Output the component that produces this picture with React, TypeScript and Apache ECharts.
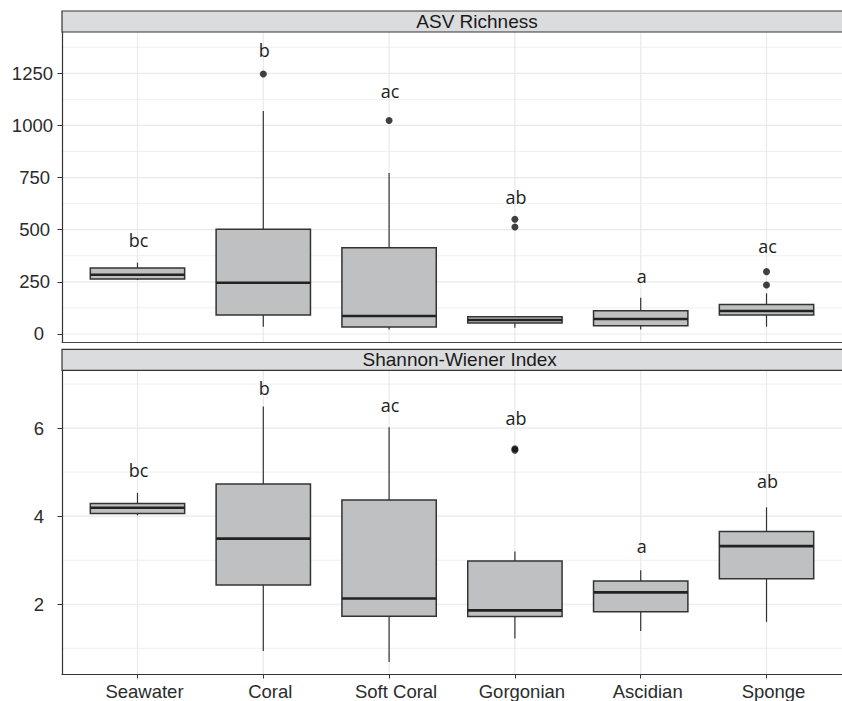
import React, { useEffect, useRef } from "react";
import * as echarts from "echarts";

const categories = ["Seawater", "Coral", "Soft Coral", "Gorgonian", "Ascidian", "Sponge"];
const categoryPositions = [1, 2, 3, 4, 5, 6];

// ASV Richness: [lowerWhisker, q1, median, q3, upperWhisker]
const asvBoxes = [
  [259, 264, 284, 316, 342],
  [35, 91, 246, 502, 1069],
  [22, 34, 86, 414, 772],
  [30, 53, 67, 83, 86],
  [22, 40, 72, 112, 174],
  [35, 91, 110, 142, 195],
];
const asvOutliers = [[], [1247], [1024], [550, 513], [], [299, 235]];
const asvLetters = ["bc", "b", "ac", "ab", "a", "ac"];
const asvLetterY = [449, 1363, 1163, 657, 280, 420];
const asvTicks = [0, 250, 500, 750, 1000, 1250];
const asvMinorGrid = [125, 375, 625, 875, 1125, 1375];

// Shannon-Wiener Index
const shannonBoxes = [
  [4.02, 4.06, 4.19, 4.29, 4.53],
  [0.94, 2.44, 3.49, 4.73, 6.49],
  [0.69, 1.73, 2.13, 4.37, 6.02],
  [1.22, 1.72, 1.86, 2.98, 3.2],
  [1.39, 1.83, 2.27, 2.53, 2.77],
  [1.6, 2.58, 3.32, 3.65, 4.2],
];
const shannonOutliers = [[], [], [], [5.53, 5.5], [], []];
const shannonLetters = ["bc", "b", "ac", "ab", "a", "ab"];
const shannonLetterY = [5.05, 6.91, 6.52, 6.23, 3.33, 4.81];
const shannonTicks = [2, 4, 6];
const shannonMinorGrid = [1, 3, 5, 7];

const X_MIN = 0.4;
const X_MAX = 6.6;
const ASV_MIN = -38.4;
const ASV_MAX = 1448;
const SH_MIN = 0.416;
const SH_MAX = 7.32;

const AXIS_FONT = '"Liberation Sans", Arial, Helvetica, sans-serif';
const LETTER_FONT = '"Open Sans", "Noto Sans", sans-serif';

function gridLineSeries(idx: number, yMin: number, yMax: number, major: number[], minor: number[]) {
  const data: number[][] = [
    ...minor.map((v) => [0, v, 0]),
    ...major.map((v) => [0, v, 1]),
    ...categoryPositions.map((c) => [1, c, 1]),
  ];
  return {
    type: "custom",
    xAxisIndex: idx,
    yAxisIndex: idx,
    silent: true,
    z: 0,
    data,
    renderItem: (params: any, api: any) => {
      const o = api.value(0);
      const v = api.value(1);
      const isMajor = api.value(2) === 1;
      let p1, p2;
      if (o === 0) {
        p1 = api.coord([X_MIN, v]);
        p2 = api.coord([X_MAX, v]);
      } else {
        p1 = api.coord([v, yMin]);
        p2 = api.coord([v, yMax]);
      }
      return {
        type: "line",
        shape: { x1: p1[0], y1: p1[1], x2: p2[0], y2: p2[1] },
        style: { stroke: isMajor ? "#e9e9e9" : "#efefef", lineWidth: isMajor ? 1.2 : 1 },
      };
    },
  };
}

function boxSeries(idx: number, boxes: number[][]) {
  return {
    type: "custom",
    xAxisIndex: idx,
    yAxisIndex: idx,
    z: 2,
    data: boxes.map((b, i) => [categoryPositions[i], ...b]),
    encode: { x: 0, y: [1, 2, 3, 4, 5] },
    renderItem: (params: any, api: any) => {
      const x = api.value(0);
      const pts = [1, 2, 3, 4, 5].map((d) => api.coord([x, api.value(d)]));
      const w = api.size([0.75, 0])[0];
      const cx = pts[0][0];
      return {
        type: "group",
        children: [
          { type: "line", shape: { x1: cx, y1: pts[4][1], x2: cx, y2: pts[3][1] }, style: { stroke: "#333", lineWidth: 1.2 } },
          { type: "line", shape: { x1: cx, y1: pts[1][1], x2: cx, y2: pts[0][1] }, style: { stroke: "#333", lineWidth: 1.2 } },
          {
            type: "rect",
            shape: { x: cx - w / 2, y: pts[3][1], width: w, height: pts[1][1] - pts[3][1] },
            style: { fill: "#bfc0c1", stroke: "#333", lineWidth: 1.5 },
          },
          { type: "line", shape: { x1: cx - w / 2, y1: pts[2][1], x2: cx + w / 2, y2: pts[2][1] }, style: { stroke: "#222", lineWidth: 2.6 } },
        ],
      };
    },
  };
}

function outlierSeries(idx: number, outliers: number[][]) {
  const data: number[][] = [];
  outliers.forEach((arr, i) => arr.forEach((v) => data.push([categoryPositions[i], v])));
  return {
    type: "scatter",
    xAxisIndex: idx,
    yAxisIndex: idx,
    z: 3,
    symbol: "circle",
    symbolSize: 7,
    itemStyle: { color: "#111" },
    data,
  };
}

function letterSeries(idx: number, letters: string[], ys: number[]) {
  return {
    type: "custom",
    xAxisIndex: idx,
    yAxisIndex: idx,
    z: 4,
    data: ys.map((y, i) => [categoryPositions[i], y]),
    renderItem: (params: any, api: any) => {
      const p = api.coord([api.value(0), api.value(1)]);
      return {
        type: "text",
        x: p[0] + 1,
        y: p[1],
        style: {
          text: letters[params.dataIndex],
          fill: "#1e1e1e",
          fontSize: 18,
          fontFamily: LETTER_FONT,
          align: "center",
          verticalAlign: "middle",
        },
      };
    },
  };
}

const richLabels = {
  p1: { padding: [0, 9, 0, 0], fontSize: 18.5, fontFamily: AXIS_FONT, color: "#2b2b2b" },
  p3: { padding: [0, 3, 0, 0], fontSize: 18.5, fontFamily: AXIS_FONT, color: "#2b2b2b" },
  p4: { padding: [0, 0, 0, 0], fontSize: 18.5, fontFamily: AXIS_FONT, color: "#2b2b2b" },
};

function yAxis(idx: number, min: number, max: number, ticks: number[]) {
  return {
    gridIndex: idx,
    type: "value",
    min,
    max,
    axisLine: { show: true, onZero: false, lineStyle: { color: "#333", width: 1.2 } },
    axisTick: { show: true, length: 4.5, customValues: ticks, lineStyle: { color: "#333", width: 1 } },
    axisLabel: {
      show: true,
      customValues: ticks,
      margin: 9,
      formatter: (v: number) => {
        const s = String(Math.round(v));
        const key = s.length >= 4 ? "p4" : s.length === 3 ? "p3" : "p1";
        return "{" + key + "|" + s + "}";
      },
      rich: richLabels,
    },
    splitLine: { show: false },
    minorSplitLine: { show: false },
  };
}

export default function App() {
  const ref = useRef<HTMLDivElement>(null);
  useEffect(() => {
    if (!ref.current) return;
    const chart = echarts.init(ref.current, null, { renderer: "svg" });
    const option: any = {
      animation: false,
      backgroundColor: "#ffffff",
      grid: [
        { left: 62, top: 32, width: 782, height: 310 },
        { left: 62, top: 370, width: 782, height: 305 },
      ],
      xAxis: [
        {
          gridIndex: 0,
          type: "value",
          min: X_MIN,
          max: X_MAX,
          axisLine: { show: true, onZero: false, lineStyle: { color: "#444", width: 1 } },
          axisTick: { show: false },
          axisLabel: { show: false },
          splitLine: { show: false },
        },
        {
          gridIndex: 1,
          type: "value",
          min: X_MIN,
          max: X_MAX,
          axisLine: { show: true, onZero: false, lineStyle: { color: "#333", width: 1.2 } },
          axisTick: { show: true, length: 4.5, customValues: categoryPositions, lineStyle: { color: "#333" } },
          axisLabel: {
            show: true,
            customValues: categoryPositions,
            formatter: (v: number) => categories[Math.round(v) - 1],
            fontSize: 18.5,
            fontFamily: AXIS_FONT,
            color: "#2b2b2b",
            margin: 8,
            padding: [0, 0, 0, 14],
          },
          splitLine: { show: false },
        },
      ],
      yAxis: [yAxis(0, ASV_MIN, ASV_MAX, asvTicks), yAxis(1, SH_MIN, SH_MAX, shannonTicks)],
      series: [
        gridLineSeries(0, ASV_MIN, ASV_MAX, asvTicks, asvMinorGrid),
        gridLineSeries(1, SH_MIN, SH_MAX, shannonTicks, shannonMinorGrid),
        boxSeries(0, asvBoxes),
        boxSeries(1, shannonBoxes),
        outlierSeries(0, asvOutliers),
        outlierSeries(1, shannonOutliers),
        letterSeries(0, asvLetters, asvLetterY),
        letterSeries(1, shannonLetters, shannonLetterY),
      ],
      graphic: [
        {
          type: "rect",
          z: 10,
          shape: { x: 62, y: 11, width: 800, height: 21 },
          style: { fill: "#dbdcdd", stroke: "#333", lineWidth: 1.2 },
        },
        {
          type: "text",
          z: 11,
          x: 477,
          y: 21.7,
          style: { text: "ASV Richness", fontSize: 19, fontFamily: AXIS_FONT, fill: "#1a1a1a", align: "center", verticalAlign: "middle" },
        },
        {
          type: "rect",
          z: 10,
          shape: { x: 62, y: 349.3, width: 800, height: 21 },
          style: { fill: "#dbdcdd", stroke: "#333", lineWidth: 1.2 },
        },
        {
          type: "text",
          z: 11,
          x: 459.7,
          y: 359.8,
          style: { text: "Shannon-Wiener Index", fontSize: 19, fontFamily: AXIS_FONT, fill: "#1a1a1a", align: "center", verticalAlign: "middle" },
        },
      ],
    };
    chart.setOption(option);
    return () => chart.dispose();
  }, []);
  return <div ref={ref} style={{ position: "fixed", left: 0, top: 0, width: 842, height: 701 }} />;
}
